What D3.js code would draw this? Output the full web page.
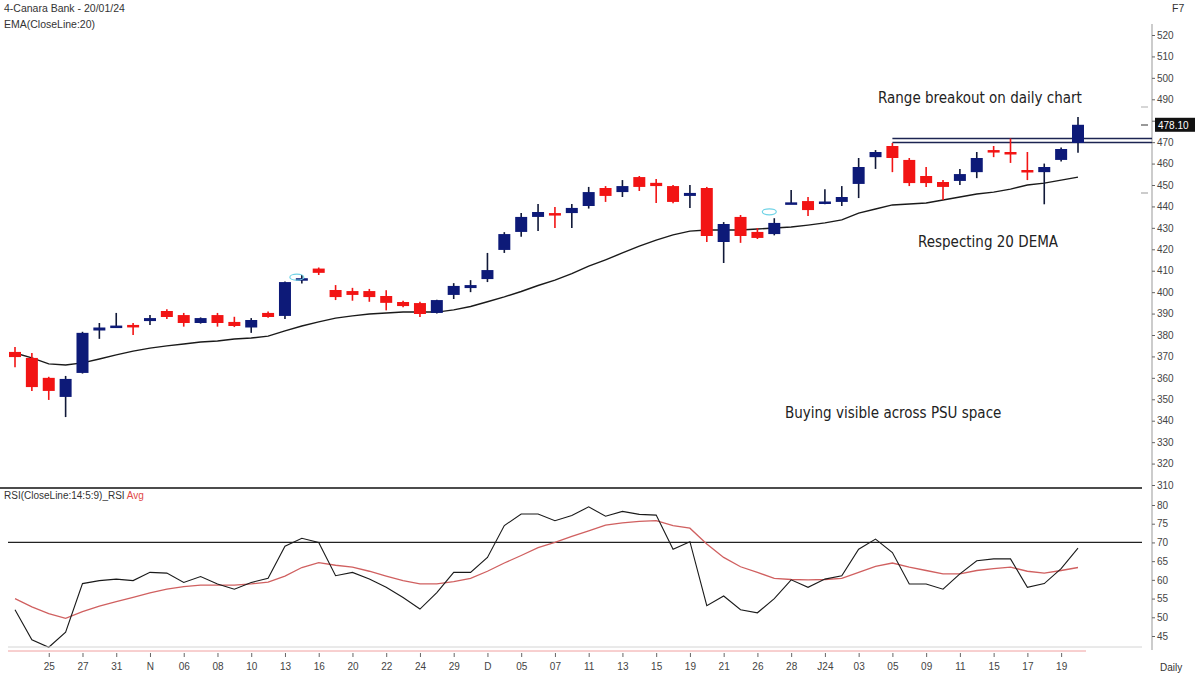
<!DOCTYPE html>
<html lang="en">
<head>
    <meta charset="UTF-8">
    <title>Canara Bank daily</title>
    <style>
        body { margin: 0; background: #fff; font-family: 'Liberation Sans', Arial, sans-serif; }
        .axis text { font: 10px 'Liberation Sans', Arial, sans-serif; fill: #444; }
        .axis line { stroke: #666; }
        .note { font: 15px 'Liberation Sans Narrow', 'DejaVu Sans Condensed', sans-serif; fill: #222; }
        .hdr { font: 10.5px 'Liberation Sans', Arial, sans-serif; fill: #333; }
    </style>
</head>
<body>
    <div id="chart"></div>

    <script src="https://d3js.org/d3.v7.min.js"></script>
    <script>
        // trading sessions (incl. Muhurat 12 Nov and special Saturday 20 Jan)
        const dates = [
            "10-20","10-23","10-25","10-26","10-27","10-30","10-31",
            "11-01","11-02","11-03","11-06","11-07","11-08","11-09","11-10","11-12","11-13","11-15","11-16","11-17",
            "11-20","11-21","11-22","11-23","11-24","11-28","11-29","11-30",
            "12-01","12-04","12-05","12-06","12-07","12-08","12-11","12-12","12-13","12-14","12-15","12-18","12-19",
            "12-20","12-21","12-22","12-26","12-27","12-28","12-29",
            "01-01","01-02","01-03","01-04","01-05","01-08","01-09","01-10","01-11","01-12","01-15","01-16","01-17",
            "01-18","01-19","01-20"
        ];
        const open  = [372.1,369.3,360.0,351.1,362.3,382.1,384.0,384.7,386.5,391.2,389.3,385.6,389.3,386.1,383.5,390.3,388.9,405.5,411.0,401.0,
                       400.5,400.5,398.2,395.4,394.9,390.3,398.7,401.9,406.1,419.7,428.1,435.1,436.9,436.9,440.2,448.6,446.7,453.7,451.0,449.5,
                       444.9,448.6,423.4,435.1,428.1,427.1,441.3,442.5,441.6,442.1,450.5,463.0,468.2,461.7,454.2,451.4,451.9,456.0,466.3,465.4,
                       457.0,456.0,461.7,469.6];
        const high  = [374.4,371.6,360.5,360.9,381.5,385.6,390.3,385.6,389.3,392.0,390.3,388.2,390.3,388.5,387.9,391.0,405.0,408.0,411.5,403.3,
                       402.0,401.5,400.9,396.0,395.5,396.5,404.2,405.6,418.3,428.0,436.9,441.1,439.7,441.1,449.1,449.5,452.3,454.2,452.8,450.0,
                       450.0,449.1,432.7,436.0,429.9,434.5,447.7,444.4,448.0,449.5,462.6,466.3,469.6,462.6,458.4,452.3,457.5,465.4,468.2,471.7,
                       465.4,460.0,467.5,481.7];
        const low   = [365.0,353.9,349.7,341.7,362.0,378.2,383.7,380.0,384.7,387.5,383.9,385.3,383.9,383.7,381.0,388.0,387.5,404.0,408.0,396.3,
                       396.0,395.5,391.5,393.0,388.4,390.0,396.8,400.0,404.7,418.3,425.8,428.5,429.9,429.9,439.0,442.1,444.4,447.2,441.6,441.5,
                       439.3,423.4,413.6,423.0,424.8,426.5,441.3,435.5,441.0,440.2,443.9,457.5,456.0,449.5,449.1,443.0,450.0,453.2,463.0,460.3,
                       452.3,441.0,461.0,465.0];
        const close = [369.7,355.7,353.9,359.5,381.0,383.5,384.4,383.7,387.9,388.4,385.6,387.9,385.6,384.2,387.0,388.4,404.7,406.5,409.0,397.7,
                       398.7,397.7,395.0,393.5,389.8,396.3,402.9,403.3,410.3,427.1,435.1,437.4,436.0,439.3,446.7,444.9,449.5,449.1,449.5,442.1,
                       446.3,426.2,431.8,426.2,425.3,432.3,441.9,438.3,442.3,444.4,458.4,465.4,462.6,450.9,450.9,449.1,455.1,462.6,465.4,464.9,
                       456.0,458.4,466.8,478.1];
        const ema20 = [371.6,369.3,366.5,366.0,367.0,368.8,370.7,372.5,373.9,374.9,375.8,376.7,377.2,378.1,378.6,379.5,381.9,384.2,386.1,387.9,
                       388.9,389.8,390.3,390.7,390.7,390.7,391.7,393.3,395.5,397.8,400.3,403.1,405.6,408.6,412.1,415.1,418.3,421.5,424.3,426.7,
                       428.5,429.0,429.0,429.0,429.5,429.9,430.4,431.3,432.3,433.7,436.9,438.8,440.7,441.1,441.6,443.0,444.4,445.8,446.7,448.1,
                       450.0,450.9,452.3,453.7];
        const rsi   = [52.0,44.0,42.0,46.0,59.0,59.8,60.2,59.8,62.0,61.8,59.3,60.9,58.9,57.5,59.3,60.4,69.0,71.1,70.0,61.1,
                       62.0,60.2,58.0,55.3,52.2,56.6,62.0,62.0,66.0,74.5,77.6,77.6,75.8,77.2,79.5,77.0,78.3,77.5,77.3,68.2,
                       70.2,53.1,55.7,52.0,51.2,55.0,60.0,58.0,60.2,61.1,68.2,70.9,67.3,58.9,58.9,57.5,61.6,65.1,65.6,65.6,
                       58.0,59.0,63.0,68.5];
        const rsiAvg = [55.0,52.8,51.0,49.7,51.5,53.0,54.2,55.3,56.5,57.5,58.2,58.6,58.6,58.6,58.9,59.4,61.0,63.3,64.6,63.9,
                        63.4,62.3,61.0,59.8,58.9,58.9,59.5,60.4,62.3,64.5,66.5,68.6,70.0,71.6,73.1,74.6,75.2,75.6,75.8,74.5,
                        73.8,69.6,66.0,63.5,62.0,60.4,60.1,60.0,60.1,60.4,62.0,63.6,64.5,63.4,62.5,61.6,61.6,62.5,63.0,63.4,
                        62.3,61.8,62.5,63.3];

        const tickDates  = dates.filter((d, i) => i >= 2 && i % 2 === 0);
        const tickLabels = ["25","27","31","N","06","08","10","13","16","20","22","24","29","D","05","07",
                            "11","13","15","19","21","26","28","J24","03","05","09","11","15","17","19"];
        const priceTicks = d3.range(310, 521, 10);
        const rsiTicks = d3.range(45, 81, 5);
        const rangeLevels = [471.7, 469.8];
        const rangeStart = "01-05";
        const lastLabel = "478.10";

        const W = 1198, H = 675;
        const svg = d3.select("#chart").append("svg")
            .attr("width", W).attr("height", H);

        const x = d3.scalePoint().domain(dates).range([15, 1078]);
        const y = d3.scaleLinear().domain([310, 520]).range([485, 35]);
        const yr = d3.scaleLinear().domain([45, 80]).range([636, 505]);
        const bodyW = 12;
        const ly = y(close[close.length - 1]);

        // headers
        svg.append("text").attr("class", "hdr").attr("x", 4).attr("y", 12).text("4-Canara Bank - 20/01/24");
        svg.append("text").attr("class", "hdr").attr("x", 4).attr("y", 28).text("EMA(CloseLine:20)");
        svg.append("text").attr("class", "hdr").attr("x", 1172).attr("y", 12).text("F7");

        // right axis line
        svg.append("line").attr("x1", 1152).attr("x2", 1152).attr("y1", 24).attr("y2", 650)
            .attr("stroke", "#999").attr("stroke-width", 1);

        // price axis (label under the last-price box is hidden, as in the terminal)
        const pa = svg.append("g").attr("class", "axis")
            .attr("transform", "translate(1152,0)")
            .call(d3.axisRight(y).tickValues(priceTicks).tickSize(3).tickPadding(2));
        pa.select(".domain").remove();
        pa.selectAll(".tick text").filter(d => Math.abs(y(d) - ly) < 10).remove();

        // rsi axis
        svg.append("g").attr("class", "axis")
            .attr("transform", "translate(1152,0)")
            .call(d3.axisRight(yr).tickValues(rsiTicks).tickSize(3).tickPadding(2))
            .select(".domain").remove();

        // range breakout lines
        rangeLevels.forEach(v => {
            svg.append("line").attr("x1", x(rangeStart)).attr("x2", 1152)
                .attr("y1", y(v)).attr("y2", y(v))
                .attr("stroke", "#1c2452").attr("stroke-width", 1.6);
        });

        // EMA
        svg.append("path").datum(dates)
            .attr("fill", "none").attr("stroke", "#1a1a1a").attr("stroke-width", 1.4)
            .attr("d", d3.line().x(d => x(d)).y((d, i) => y(ema20[i])));

        // candles
        const up = "#0d1a78", down = "#f21414";
        const g = svg.append("g");
        dates.forEach((d, i) => {
            const isUp = close[i] >= open[i];
            const col = isUp ? up : down;
            g.append("line")
                .attr("x1", x(d)).attr("x2", x(d))
                .attr("y1", y(high[i])).attr("y2", y(low[i]))
                .attr("stroke", isUp ? "#101838" : down).attr("stroke-width", 1.6);
            const top = y(Math.max(open[i], close[i]));
            const h = Math.max(2.5, Math.abs(y(open[i]) - y(close[i])));
            g.append("rect")
                .attr("x", x(d) - bodyW / 2).attr("y", top)
                .attr("width", bodyW).attr("height", h)
                .attr("fill", col);
        });

        // gap markers
        [["11-15", 407], ["12-27", 437.5]].forEach(([d, v]) => {
            svg.append("ellipse").attr("cx", x(d) - 5).attr("cy", y(v))
                .attr("rx", 7).attr("ry", 3)
                .attr("fill", "none").attr("stroke", "#6fd3e6").attr("stroke-width", 1.2);
        });

        // last price label
        svg.append("rect").attr("x", 1155).attr("y", ly - 7).attr("width", 40).attr("height", 14).attr("fill", "#111");
        svg.append("text").attr("x", 1158).attr("y", ly + 4).attr("fill", "#fff")
            .style("font", "10px 'Liberation Sans', Arial, sans-serif").text(lastLabel);

        // side markers
        [[107, "#bbb"], [125, "#555"], [193, "#aaa"]].forEach(([yy, c]) => {
            svg.append("line").attr("x1", 1141).attr("x2", 1148).attr("y1", yy).attr("y2", yy)
                .attr("stroke", c).attr("stroke-width", 1.2);
        });

        // notes
        svg.append("text").attr("class", "note").attr("x", 878).attr("y", 103).text("Range breakout on daily chart");
        svg.append("text").attr("class", "note").attr("x", 918).attr("y", 247).text("Respecting 20 DEMA");
        svg.append("text").attr("class", "note").attr("x", 785).attr("y", 418).text("Buying visible across PSU space");

        // separator between panels
        svg.append("line").attr("x1", 0).attr("x2", 1142).attr("y1", 488).attr("y2", 488)
            .attr("stroke", "#111").attr("stroke-width", 1.6);

        // RSI title
        const t = svg.append("text").attr("class", "hdr").attr("x", 4).attr("y", 499).style("font-size", "10px");
        t.append("tspan").text("RSI(CloseLine:14:5:9)_RSI ");
        t.append("tspan").attr("fill", "#e04848").text("Avg");

        // 70 level
        svg.append("line").attr("x1", 8).attr("x2", 1142).attr("y1", yr(70)).attr("y2", yr(70))
            .attr("stroke", "#222").attr("stroke-width", 1.3);

        svg.append("path").datum(dates)
            .attr("fill", "none").attr("stroke", "#d06060").attr("stroke-width", 1.3)
            .attr("d", d3.line().x(d => x(d)).y((d, i) => yr(rsiAvg[i])));
        svg.append("path").datum(dates)
            .attr("fill", "none").attr("stroke", "#1a1a1a").attr("stroke-width", 1.1)
            .attr("d", d3.line().x(d => x(d)).y((d, i) => yr(rsi[i])));

        // bottom lines
        svg.append("line").attr("x1", 8).attr("x2", 1142).attr("y1", 647).attr("y2", 647)
            .attr("stroke", "#d4d4d4").attr("stroke-width", 1);
        svg.append("line").attr("x1", 8).attr("x2", 1086).attr("y1", 651).attr("y2", 651)
            .attr("stroke", "#f0a0a0").attr("stroke-width", 1);

        // date axis
        svg.append("g").attr("class", "axis")
            .attr("transform", "translate(0,653)")
            .call(d3.axisBottom(x).tickValues(tickDates).tickSize(4).tickPadding(6)
                .tickFormat((d, i) => tickLabels[i]))
            .select(".domain").remove();

        svg.append("text").attr("class", "hdr").attr("x", 1160).attr("y", 671).style("font-size", "10px").text("Daily");
    </script>
</body>
</html>
